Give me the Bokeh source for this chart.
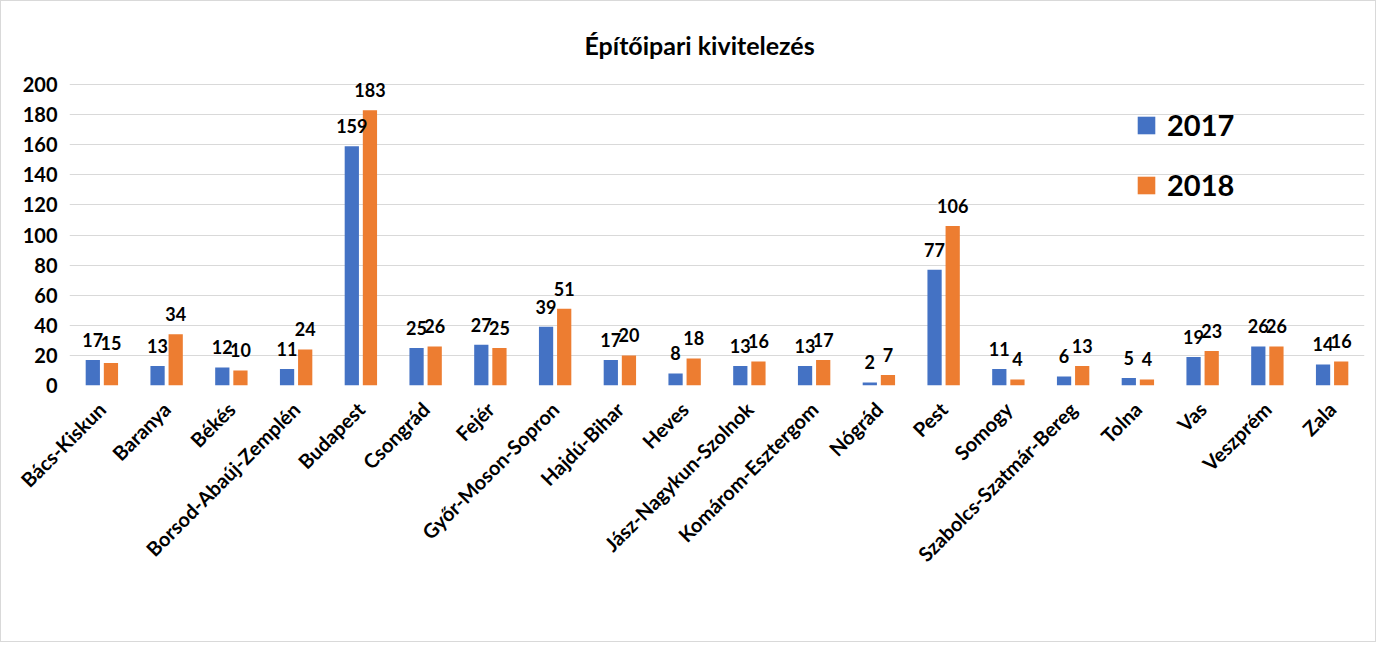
import math
from bokeh.plotting import figure
from bokeh.models import ColumnDataSource, Range1d, FixedTicker, Legend, LegendItem
from bokeh.core.properties import value
from bokeh.embed import file_html
from bokeh.resources import INLINE

counties = ["Bács-Kiskun", "Baranya", "Békés", "Borsod-Abaúj-Zemplén", "Budapest",
            "Csongrád", "Fejér", "Győr-Moson-Sopron", "Hajdú-Bihar", "Heves",
            "Jász-Nagykun-Szolnok", "Komárom-Esztergom", "Nógrád", "Pest", "Somogy",
            "Szabolcs-Szatmár-Bereg", "Tolna", "Vas", "Veszprém", "Zala"]
v2017 = [17, 13, 12, 11, 159, 25, 27, 39, 17, 8, 13, 13, 2, 77, 11, 6, 5, 19, 26, 14]
v2018 = [15, 34, 10, 24, 183, 26, 25, 51, 20, 18, 16, 17, 7, 106, 4, 13, 4, 23, 26, 16]
y_ticks = [0, 20, 40, 60, 80, 100, 120, 140, 160, 180, 200]

BLUE = "#4472C4"
ORANGE = "#ED7D31"
FONT = "Lato"

idx = list(range(len(counties)))
off = 0.14
bw = 0.22
src = ColumnDataSource(dict(
    x1=[i - off for i in idx], x2=[i + off for i in idx],
    v1=v2017, v2=v2018,
    t1=[str(v) for v in v2017], t2=[str(v) for v in v2018],
))

p = figure(width=1376, height=642, output_backend="svg", toolbar_location=None,
           x_range=Range1d(-0.5, len(counties) - 0.5), y_range=Range1d(0, 210),
           min_border_left=68, min_border_right=13, min_border_top=68, min_border_bottom=258)
p.title.text = "Építőipari kivitelezés"
p.title.align = "left"
p.title.offset = 515
p.title.standoff = 20
p.title.text_font = FONT
p.title.text_font_size = "25px"
p.title.text_font_style = "bold"
p.title.text_color = "#000000"

p.outline_line_color = None
p.background_fill_color = "white"
p.border_fill_color = "white"

r1 = p.vbar(x="x1", top="v1", width=bw, source=src, fill_color=BLUE, line_color=None)
r2 = p.vbar(x="x2", top="v2", width=bw, source=src, fill_color=ORANGE, line_color=None)

for xcol, ycol, tcol in (("x1", "v1", "t1"), ("x2", "v2", "t2")):
    p.text(x=xcol, y=ycol, text=tcol, source=src, text_align="center",
           text_baseline="bottom", y_offset=-13, text_font=value(FONT),
           text_font_style="bold", text_font_size="18px", text_color="#000000")

# axes
p.xaxis.ticker = FixedTicker(ticks=idx)
p.xaxis.major_label_overrides = {i: c for i, c in enumerate(counties)}
p.xaxis.major_label_orientation = math.pi / 4
p.xaxis.major_label_text_font = FONT
p.xaxis.major_label_text_font_style = "bold"
p.xaxis.major_label_text_font_size = "20px"
p.xaxis.major_label_text_color = "#000000"
p.xaxis.major_label_standoff = 14
p.xaxis.axis_line_color = None
p.xaxis.major_tick_line_color = None
p.xaxis.minor_tick_line_color = None

p.yaxis.ticker = FixedTicker(ticks=y_ticks)
p.yaxis.major_label_text_font = FONT
p.yaxis.major_label_text_font_style = "bold"
p.yaxis.major_label_text_font_size = "20px"
p.yaxis.major_label_text_color = "#000000"
p.yaxis.major_label_standoff = 6
p.yaxis.axis_line_color = None
p.yaxis.major_tick_line_color = None
p.yaxis.minor_tick_line_color = None

p.xgrid.grid_line_color = None
p.ygrid.ticker = FixedTicker(ticks=y_ticks)
p.ygrid.grid_line_color = "#d9d9d9"
p.ygrid.grid_line_width = 1

legend = Legend(items=[LegendItem(label="2017", renderers=[r1]),
                       LegendItem(label="2018", renderers=[r2])],
                location=(1066, 183), orientation="vertical")
legend.glyph_width = 22
legend.glyph_height = 22
legend.label_height = 22
legend.spacing = 25
legend.padding = 0
legend.margin = 0
legend.label_standoff = 10
legend.label_text_font = FONT
legend.label_text_font_style = "bold"
legend.label_text_font_size = "29px"
legend.label_text_color = "#000000"
legend.border_line_color = None
legend.background_fill_alpha = 0
p.add_layout(legend, "center")

p.styles = {"border": "1px solid #d9d9d9"}

open("out.html", "w").write(file_html(p, INLINE))
